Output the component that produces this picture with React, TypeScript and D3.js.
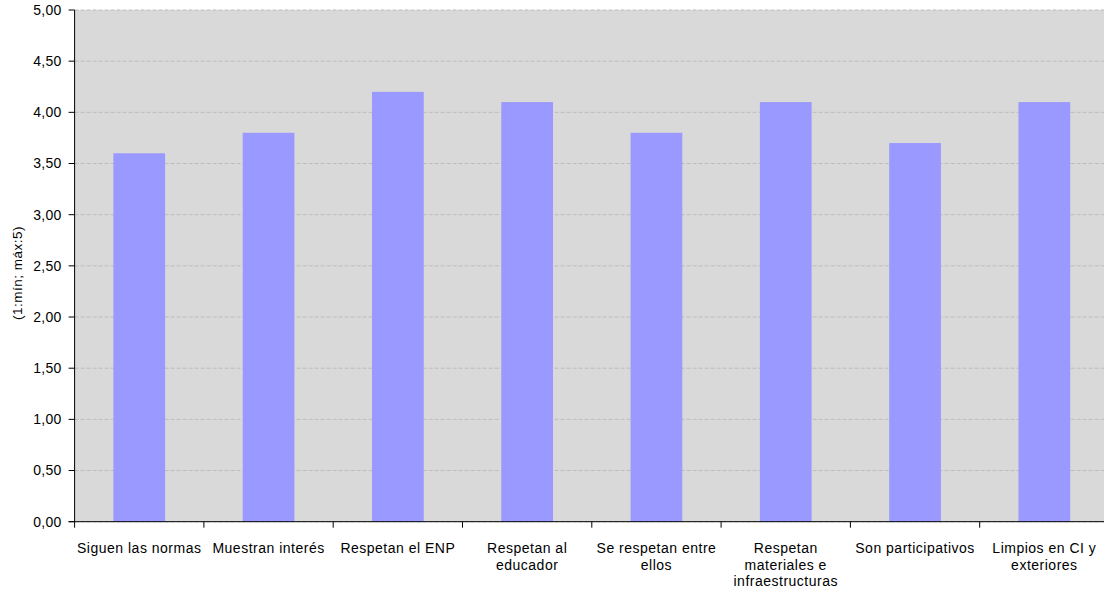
import React from "react";
import * as d3 from "d3";

const categories: string[][] = [
  ["Siguen las normas"],
  ["Muestran interés"],
  ["Respetan el ENP"],
  ["Respetan al", "educador"],
  ["Se respetan entre", "ellos"],
  ["Respetan", "materiales e", "infraestructuras"],
  ["Son participativos"],
  ["Limpios en CI y", "exteriores"],
];
const values: number[] = [3.6, 3.8, 4.2, 4.1, 3.8, 4.1, 3.7, 4.1];
const yTicks: number[] = [0, 0.5, 1, 1.5, 2, 2.5, 3, 3.5, 4, 4.5, 5];
const yLabel = "(1:mín; máx:5)";

export default function App() {
  const W = 1104, H = 593;
  const left = 74.6, right = 1109, top = 10, bottom = 521.7;
  const keys = categories.map((_, i) => String(i));
  const x = d3.scaleBand<string>().domain(keys).range([left, right]).paddingInner(0).paddingOuter(0);
  const y = d3.scaleLinear().domain([0, 5]).range([bottom, top]);
  const bw = x.bandwidth() * 0.4;
  const fmt = (v: number) => v.toFixed(2).replace(".", ",");
  const font = "'Liberation Sans', Arial, sans-serif";
  return (
    <svg width={W} height={H} style={{ position: "absolute", left: 0, top: 0 }} fontFamily={font}>
      <rect x={left} y={top} width={right - left} height={bottom - top} fill="#d9d9d9" />
      {yTicks.map((t) => (
        <line key={"g" + t} x1={left} x2={right} y1={y(t)} y2={y(t)} stroke="#bcbcbc" strokeDasharray="4,2" strokeWidth={1} />
      ))}
      {values.map((v, i) => (
        <rect key={"b" + i} x={(x(String(i)) as number) + x.bandwidth() / 2 - bw / 2} y={y(v)} width={bw} height={bottom - y(v)} fill="#9999ff" />
      ))}
      <line x1={left} x2={left} y1={top} y2={bottom} stroke="#000" strokeWidth={1} />
      <line x1={left - 6} x2={right} y1={bottom} y2={bottom} stroke="#000" strokeWidth={1} />
      {yTicks.map((t) => (
        <g key={"t" + t}>
          <line x1={left - 6} x2={left} y1={y(t)} y2={y(t)} stroke="#000" />
          <text x={left - 13} y={y(t)} dy="0.35em" textAnchor="end" fontSize={14} letterSpacing={0.3} fill="#000">{fmt(t)}</text>
        </g>
      ))}
      {keys.map((k) => (
        <line key={"xt" + k} x1={x(k) as number} x2={x(k) as number} y1={bottom} y2={bottom + 6} stroke="#000" />
      ))}
      {categories.map((lines, i) => (
        <text key={"c" + i} x={(x(String(i)) as number) + x.bandwidth() / 2} y={553} textAnchor="middle" fontSize={14} letterSpacing={0.5} fill="#000">
          {lines.map((l, j) => (
            <tspan key={j} x={(x(String(i)) as number) + x.bandwidth() / 2} dy={j === 0 ? 0 : 16.5}>{l}</tspan>
          ))}
        </text>
      ))}
      <text transform={`translate(22,273) rotate(-90)`} textAnchor="middle" fontSize={13.5} letterSpacing={0.5} fill="#000">{yLabel}</text>
    </svg>
  );
}
